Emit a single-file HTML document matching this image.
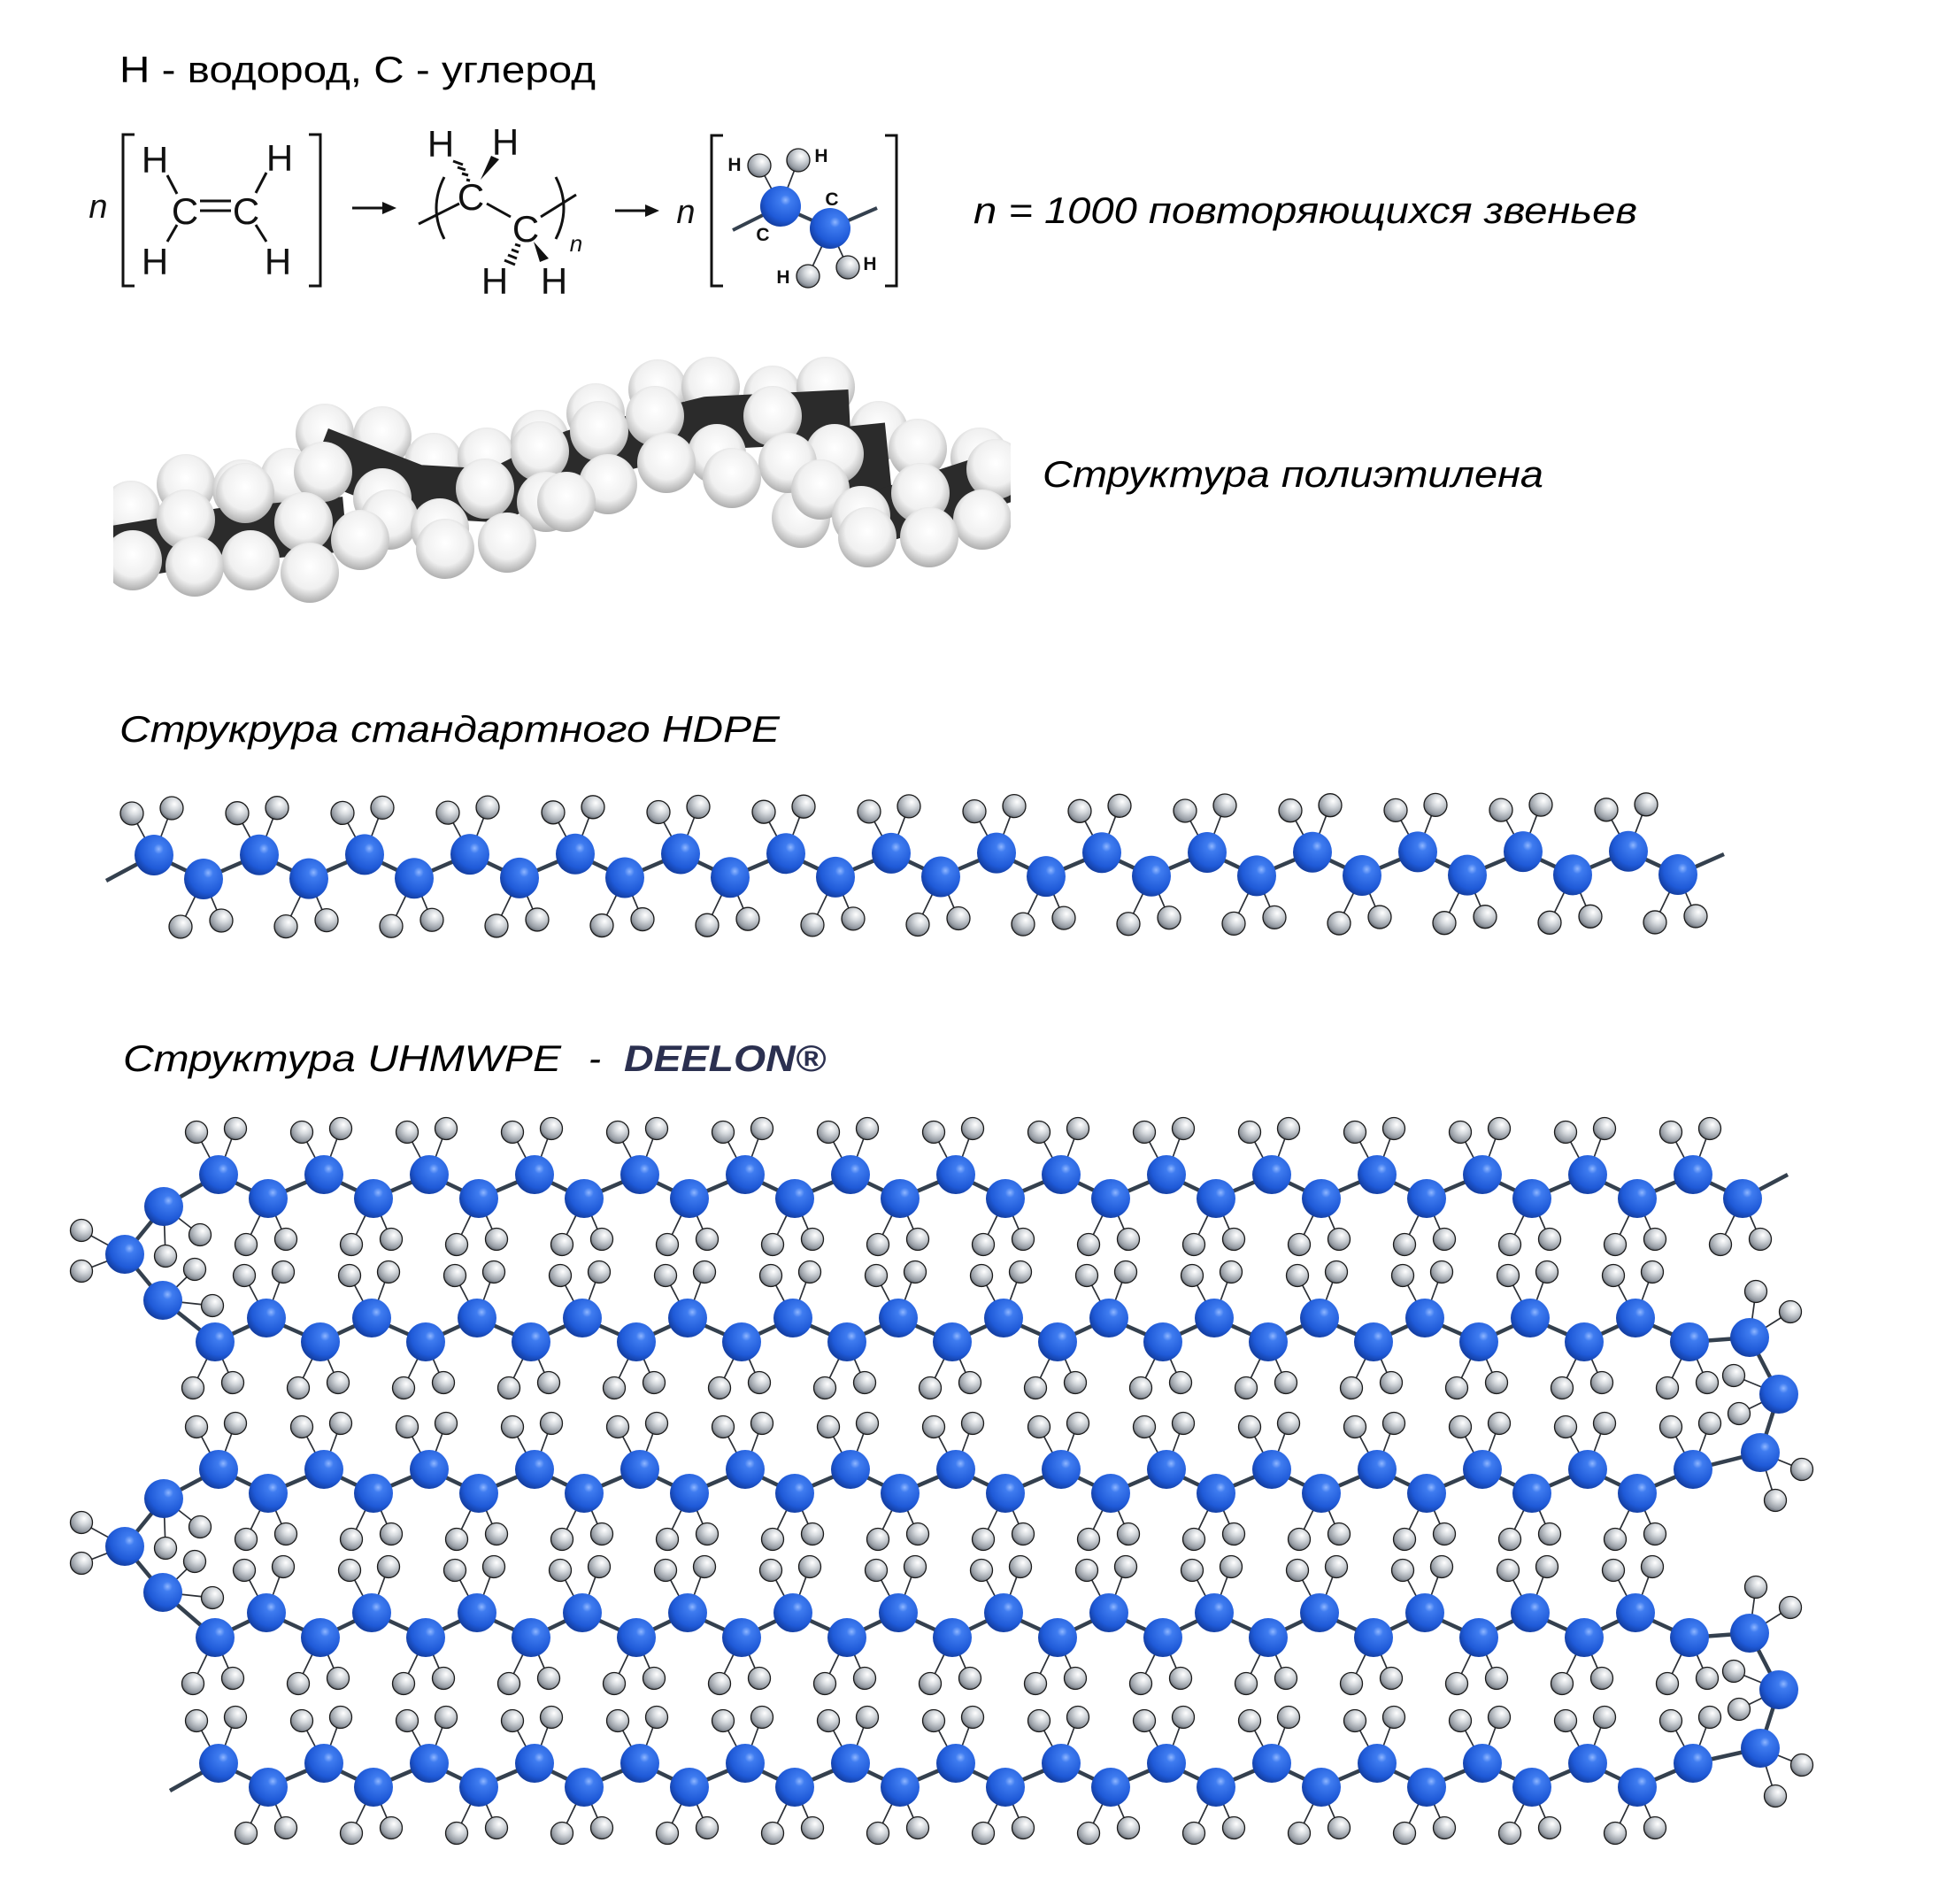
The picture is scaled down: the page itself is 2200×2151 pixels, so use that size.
<!DOCTYPE html>
<html><head><meta charset="utf-8">
<style>
html,body{margin:0;padding:0;background:#fff;}
svg{display:block;}
text{font-family:"Liberation Sans",sans-serif;}
</style></head>
<body>
<svg id="s" width="2200" height="2151" viewBox="0 0 2200 2151" xmlns="http://www.w3.org/2000/svg">
<defs>
<radialGradient id="gc" cx="62%" cy="35%" r="70%">
<stop offset="0" stop-color="#8fb6ff"/>
<stop offset="0.18" stop-color="#3f7cf0"/>
<stop offset="0.7" stop-color="#1f5ad8"/>
<stop offset="1" stop-color="#123a9a"/>
</radialGradient>
<radialGradient id="gh" cx="62%" cy="32%" r="72%">
<stop offset="0" stop-color="#ffffff"/>
<stop offset="0.35" stop-color="#d6dade"/>
<stop offset="0.8" stop-color="#959ba3"/>
<stop offset="1" stop-color="#5a6068"/>
</radialGradient>
<radialGradient id="gw" cx="50%" cy="40%" r="62%">
<stop offset="0" stop-color="#ffffff"/>
<stop offset="0.6" stop-color="#f0f0f0"/>
<stop offset="1" stop-color="#a8a8a8"/>
</radialGradient>
<clipPath id="sf"><rect x="128" y="400" width="1014" height="290"/></clipPath>
</defs>

<!-- Titles -->
<text x="135" y="93" font-size="42" textLength="538" lengthAdjust="spacingAndGlyphs">H - водород, C - углерод</text>
<text x="1100" y="252" font-size="42" font-style="italic" textLength="750" lengthAdjust="spacingAndGlyphs">n = 1000 повторяющихся звеньев</text>
<text x="1178" y="550" font-size="42" font-style="italic" textLength="566" lengthAdjust="spacingAndGlyphs">Структура полиэтилена</text>
<text x="135" y="838" font-size="42" font-style="italic" textLength="746" lengthAdjust="spacingAndGlyphs">Струкрура стандартного HDPE</text>
<text x="139" y="1210" font-size="42" font-style="italic" textLength="495" lengthAdjust="spacingAndGlyphs">Структура UHMWPE</text>
<text x="665" y="1210" font-size="42" font-style="italic">-</text>
<text x="705" y="1210" font-size="42" font-style="italic" font-weight="bold" fill="#2b3050" textLength="228" lengthAdjust="spacingAndGlyphs">DEELON®</text>

<!-- Formula 1 -->
<g fill="#111" font-size="42" text-anchor="middle">
<text x="111" y="246" font-size="38" font-style="italic">n</text>
<text x="175" y="195">H</text><text x="316" y="193">H</text>
<text x="209" y="253">C</text><text x="278" y="253">C</text>
<text x="175" y="310">H</text><text x="314" y="310">H</text>
</g>
<g stroke="#111" stroke-width="3" fill="none">
<path d="M152,152 H139 V323 H152"/><path d="M349,152 H362 V323 H349"/>
<line x1="189" y1="198" x2="200" y2="219"/><line x1="301" y1="195" x2="289" y2="218"/>
<line x1="200" y1="254" x2="189" y2="273"/><line x1="289" y1="254" x2="301" y2="273"/>
<line x1="226" y1="227" x2="261" y2="227"/><line x1="226" y1="238" x2="261" y2="238"/>
<line x1="398" y1="235" x2="435" y2="235"/>
</g>
<polygon points="448,235 432,228 432,242" fill="#111"/>
<!-- Formula 2 -->
<g fill="#111" font-size="42" text-anchor="middle">
<text x="498" y="177">H</text><text x="571" y="175">H</text>
<text x="532" y="237">C</text><text x="594" y="273">C</text>
<text x="559" y="332">H</text><text x="626" y="332">H</text>
<text x="651" y="284" font-size="26" font-style="italic">n</text>
</g>
<g stroke="#111" stroke-width="3" fill="none">
<path d="M502,200 Q484,235 502,270"/><path d="M628,200 Q646,235 628,270"/>
<line x1="473" y1="253" x2="519" y2="230"/><line x1="550" y1="230" x2="577" y2="245"/>
<line x1="611" y1="245" x2="651" y2="220"/>
<line x1="527" y1="203" x2="531" y2="204"/><line x1="522" y1="196" x2="529" y2="198"/>
<line x1="517" y1="189" x2="526" y2="192"/><line x1="512" y1="182" x2="523" y2="186"/>
<line x1="582" y1="276" x2="588" y2="278"/><line x1="578" y1="282" x2="586" y2="285"/>
<line x1="574" y1="288" x2="584" y2="292"/><line x1="570" y1="294" x2="582" y2="299"/>
<line x1="695" y1="238" x2="732" y2="238"/>
<path d="M817,153 H804 V323 H817"/><path d="M1000,153 H1013 V323 H1000"/>
</g>
<polygon points="543,203 555,176 564,180" fill="#111"/>
<polygon points="603,273 610,296 620,292" fill="#111"/>
<polygon points="745,238 729,231 729,245" fill="#111"/>
<text x="775" y="252" font-size="38" font-style="italic" text-anchor="middle" fill="#111">n</text>

<!-- Space-filling model -->
<g clip-path="url(#sf)">
<g id="sfback"></g>
<g stroke="#2b2b2b" stroke-linecap="butt" stroke-linejoin="round" fill="none">
<polyline points="110,628 250,605 390,592" stroke-width="62"/>
<polyline points="360,512 470,555 560,560 650,515 800,478 960,470" stroke-width="60"/>
<line x1="975" y1="480" x2="985" y2="580" stroke-width="50"/>
<line x1="975" y1="590" x2="1160" y2="530" stroke-width="60"/>
</g>
<g id="sffront"></g>
</g>

<g id="mol"></g>
</svg>
<script>
(function(){
var NS="http://www.w3.org/2000/svg";
var mol=document.getElementById("mol");
var bonds=document.createElementNS(NS,"g"), hs=document.createElementNS(NS,"g"), cs=document.createElementNS(NS,"g");
mol.appendChild(bonds);mol.appendChild(hs);mol.appendChild(cs);
function el(p,t,a){var e=document.createElementNS(NS,t);for(var k in a)e.setAttribute(k,a[k]);p.appendChild(e);return e;}
function line(x1,y1,x2,y2,w,c){el(bonds,"line",{x1:x1,y1:y1,x2:x2,y2:y2,stroke:c||"#2b2f36","stroke-width":w||1.6,"stroke-linecap":"round"});}
function H(cx,cy,hx,hy,rx,ry){line(cx,cy,hx,hy,1.7);el(hs,"ellipse",{cx:hx,cy:hy,rx:rx||12.5,ry:ry||12.5,fill:"url(#gh)",stroke:"#1a1a1a","stroke-width":1.3});}
function C(x,y,rx,ry){el(cs,"ellipse",{cx:x,cy:y,rx:rx||22,ry:ry||22,fill:"url(#gc)"});}
function chain(pts,w){var d="M"+pts.map(function(p){return p[0]+","+p[1];}).join(" L");el(bonds,"path",{d:d,fill:"none",stroke:"#34404e","stroke-width":w||4.5,"stroke-linejoin":"round"});}

// space-filling spheres
var back=[[148,577],[210,547],[273,553],[327,540],[367,490],[432,493],[490,523],[550,517],[610,497],[673,467],[743,440],[803,437],[873,447],[933,437],[993,487],[1037,507],[1107,517],[905,585]];
var front=[[210,587],[277,557],[343,590],[365,533],[432,563],[497,597],[548,552],[610,510],[677,487],[740,470],[810,513],[873,470],[943,513],[1040,557],[973,583],
[150,633],[220,640],[283,633],[350,647],[407,610],[440,587],[503,620],[573,613],[617,567],[640,567],[687,547],[753,523],[827,540],[890,523],[927,553],[980,607],[1050,607],[1110,587],[1125,530]];
var sb=document.getElementById("sfback"),sf=document.getElementById("sffront");
back.forEach(function(p){el(sb,"ellipse",{cx:p[0],cy:p[1],rx:33,ry:34,fill:"url(#gw)"});});
front.sort(function(a,b){return a[1]-b[1];});
front.forEach(function(p){el(sf,"ellipse",{cx:p[0],cy:p[1],rx:33,ry:34,fill:"url(#gw)"});});

// formula 3D unit
chain([[828,260],[882,233],[938,258],[991,235]],4);
H(882,233,858,187,13,13);H(882,233,902,181,13,13);H(938,258,913,312,13,13);H(938,258,958,302,13,13);
C(882,233,23,23);C(938,258,23,23);
var lb=[["H",830,193],["H",928,183],["C",940,232],["C",862,272],["H",885,320],["H",983,305]];
lb.forEach(function(l){var t=el(mol,"text",{x:l[1],y:l[2],"font-size":21,"font-weight":"bold","text-anchor":"middle",fill:"#111"});t.textContent=l[0];});

// HDPE
var pts=[[120,995]];var U=[],L=[];
for(var i=0;i<15;i++){U.push([174+119*i,966-i*0.3]);L.push([230+119*i,993-i*0.36]);pts.push(U[i]);pts.push(L[i]);}
pts.push([1948,965]);chain(pts,4.5);
U.forEach(function(p){H(p[0],p[1],p[0]-25,p[1]-47,13,13);H(p[0],p[1],p[0]+20,p[1]-53,13,13);C(p[0],p[1],22,23);});
L.forEach(function(p){H(p[0],p[1],p[0]-26,p[1]+54,13,13);H(p[0],p[1],p[0]+20,p[1]+47,13,13);C(p[0],p[1],22,23);});

// UHMWPE
function up(x,y){H(x,y,x-25,y-48);H(x,y,x+19,y-52);C(x,y);}
function lo(x,y){H(x,y,x-25,y+52);H(x,y,x+20,y+46);C(x,y);}
function rowA(uy,ly,nl){var a=[];for(var i=0;i<15;i++){a.push([247+119*i,uy]);if(i<nl)a.push([303+119*i,ly]);}return a;}
function rowB(uy,ly){var a=[];for(var i=0;i<15;i++){a.push([243+119*i,ly]);if(i<14)a.push([301+119*i,uy]);}return a;}
function drawRow(a,uy){a.forEach(function(p){if(p[1]==uy)up(p[0],p[1]);else lo(p[0],p[1]);});}
function leftFold(dy){
 var a=[185,1363+dy],b=[141,1417+dy],c=[184,1469+dy];
 H(a[0],a[1],226,1395+dy);H(a[0],a[1],187,1419+dy);
 H(b[0],b[1],92,1390+dy);H(b[0],b[1],92,1436+dy);
 H(c[0],c[1],220,1434+dy);H(c[0],c[1],240,1475+dy);
 C(a[0],a[1]);C(b[0],b[1]);C(c[0],c[1]);return [a,b,c];}
function rightFold(dy){
 var a=[1977,1511+dy],b=[2010,1575+dy],c=[1989,1641+dy];
 H(a[0],a[1],1984,1459+dy);H(a[0],a[1],2023,1482+dy);
 H(b[0],b[1],1959,1554+dy);H(b[0],b[1],1965,1597+dy);
 H(c[0],c[1],2036,1660+dy);H(c[0],c[1],2006,1695+dy);
 C(a[0],a[1]);C(b[0],b[1]);C(c[0],c[1]);return [a,b,c];}

var r1=rowA(1327,1354,15),r2=rowB(1489,1516),r3=rowA(1660,1687,14),r4=rowB(1822,1850),r5=rowA(1992,2019,14);
var lf1=leftFold(0),lf2=leftFold(330),rf1=rightFold(0),rf2=rightFold(334);
chain([].concat([lf1[2],lf1[1],lf1[0]],r1,[[2020,1327]]));
chain([].concat([lf1[2]],r2,[rf1[0],rf1[1],rf1[2]]));
chain([].concat([lf2[2],lf2[1],lf2[0]],r3,[rf1[2]]));
chain([].concat([lf2[2]],r4,[rf2[0],rf2[1],rf2[2]]));
chain([].concat([[192,2023]],r5,[rf2[2]]));
drawRow(r1,1327);drawRow(r2,1489);drawRow(r3,1660);drawRow(r4,1822);drawRow(r5,1992);
})();
</script>
</body></html>
